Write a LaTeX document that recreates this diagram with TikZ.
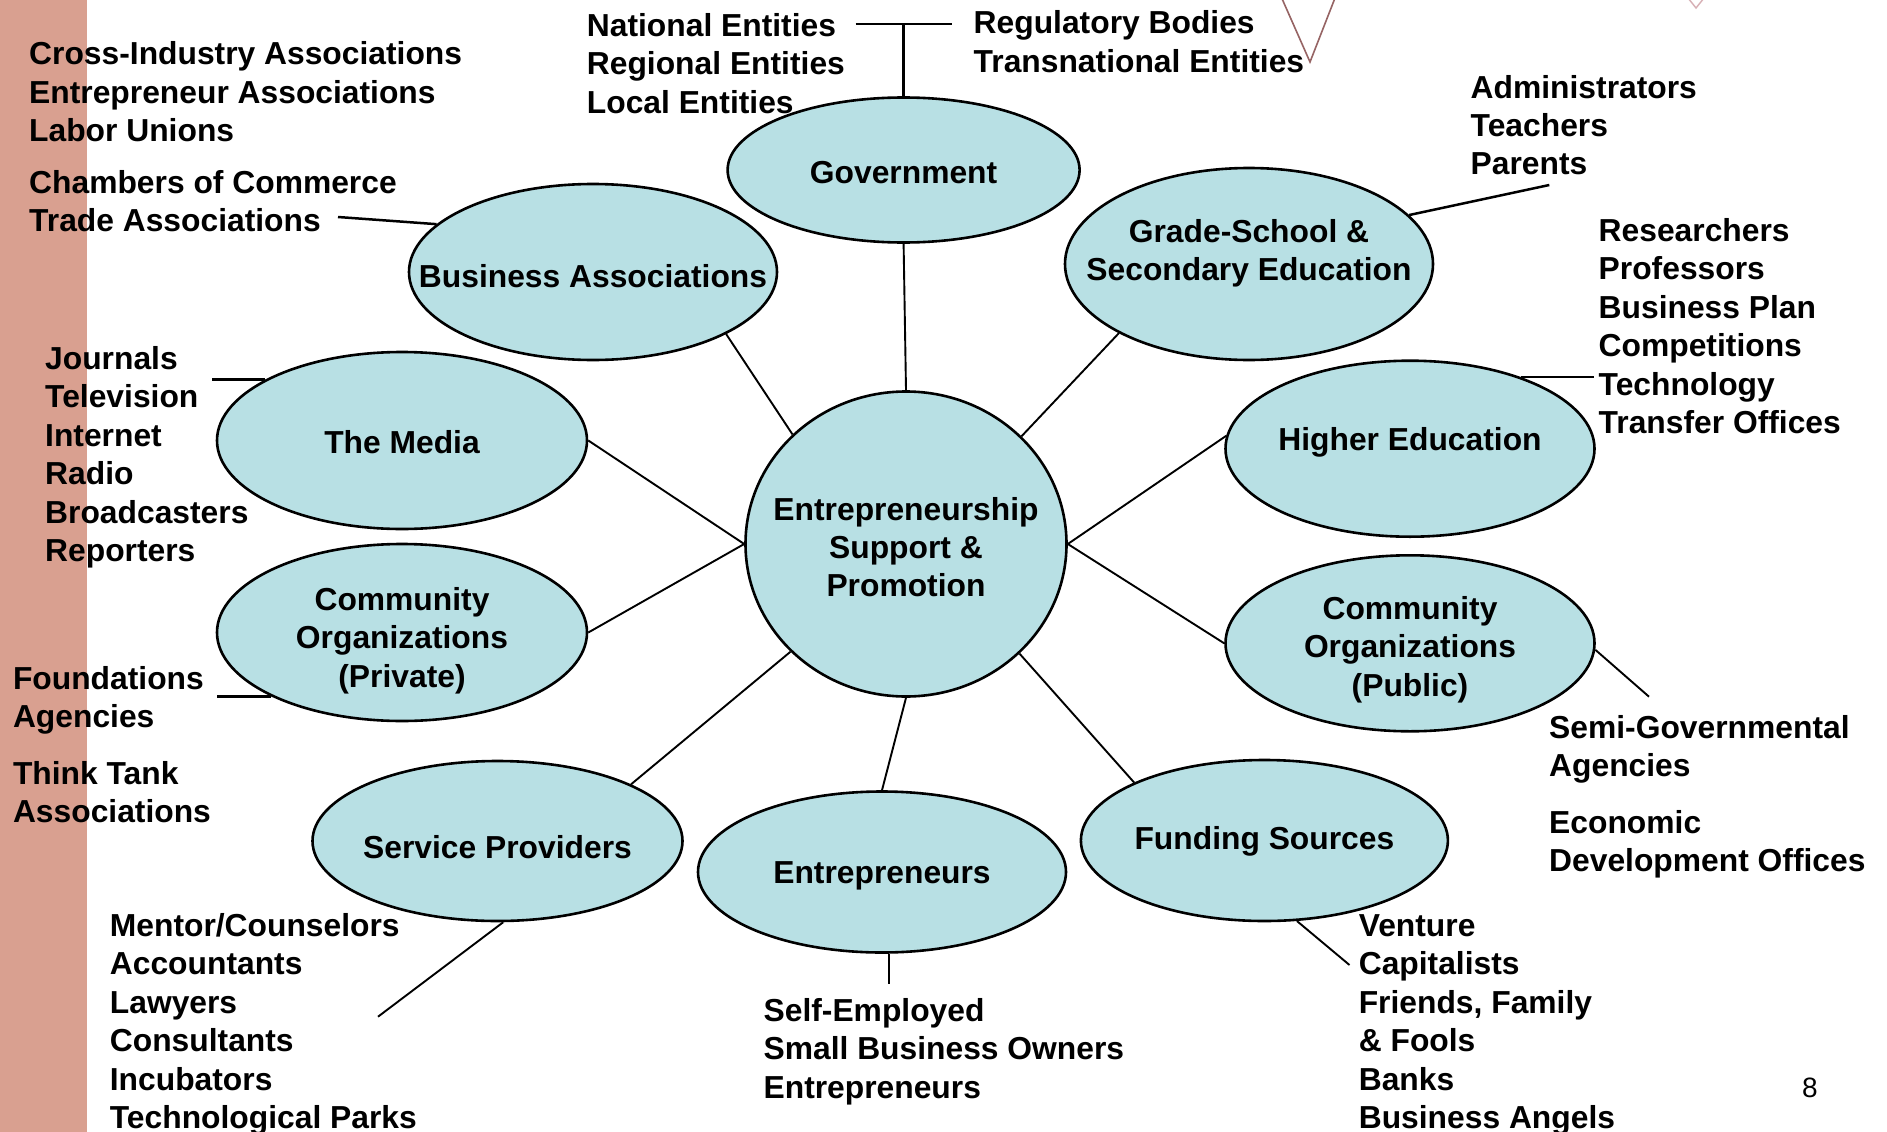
\documentclass[tikz,border=0pt]{standalone}
\usepackage{fontspec}
\setmainfont{Liberation Sans}
\usetikzlibrary{shapes.geometric}
\definecolor{barfill}{RGB}{217,160,144}
\definecolor{bubblefill}{RGB}{184,224,228}
\definecolor{vline}{RGB}{150,100,100}
\definecolor{vfaint}{RGB}{215,175,180}
\newcommand\lblfont{\bfseries\fontsize{31.8}{38.4}\selectfont}
\newcommand\pgnfont{\fontsize{28}{34}\selectfont}
\newcommand\elab[2][-11pt]{\makebox[0pt]{\raisebox{#1}[0pt][0pt]{\begin{tabular}{@{}c@{}}#2\end{tabular}}}}
\newcommand\tlist[1]{\begin{tabular}[t]{@{}l@{}}#1\end{tabular}}
\begin{document}
\begin{tikzpicture}[x=1pt,y=-1pt,
  bubble/.style={ellipse, draw, line width=2.6pt, fill=bubblefill, inner sep=0pt, font=\lblfont},
  listtext/.style={anchor=base west, inner sep=0pt, font=\lblfont},
  spoke/.style={line width=1.9pt},
  twig/.style={line width=2.5pt}]
\useasboundingbox (0,0) rectangle (1887,1132);
\fill[white] (0,0) rectangle (1887,1132);
\fill[barfill] (0,0) rectangle (87,1132);
% decorations at top
\draw[vline, line width=1.6pt] (1281.7,-2) -- (1310,62) -- (1335,-2);
\draw[vfaint, line width=1.4pt] (1688,-2) -- (1696,8) -- (1704,-2);

% ellipses
\node[bubble, minimum width=352pt, minimum height=145pt] (gov) at (903.6,170) {\elab[-12pt]{Government}};
\node[bubble, minimum width=368pt, minimum height=176pt] (ba) at (593,272) {\elab[-14.5pt]{Business Associations}};
\node[bubble, minimum width=368pt, minimum height=192pt] (grade) at (1249,264) {\elab[4pt]{Grade-School \&\\Secondary Education}};
\node[bubble, minimum width=370pt, minimum height=177pt] (media) at (402,440.5) {\elab[-12pt]{The Media}};
\node[bubble, minimum width=369pt, minimum height=176pt] (higher) at (1410,448.7) {\elab[0pt]{Higher Education}};
\node[bubble, minimum width=321pt, minimum height=305pt] (c) at (906,544) {\elab[-13pt]{Entrepreneurship\\Support \&\\Promotion}};
\node[bubble, minimum width=370pt, minimum height=177pt] (cpriv) at (402,632.5) {\elab[-15pt]{Community\\Organizations\\(Private)}};
\node[bubble, minimum width=369pt, minimum height=176pt] (cpub) at (1410,643.3) {\elab[-13pt]{Community\\Organizations\\(Public)}};
\node[bubble, minimum width=370pt, minimum height=160pt] (serv) at (497.5,841) {\elab[-16pt]{Service Providers}};
\node[bubble, minimum width=368pt, minimum height=161pt] (ent) at (882,872) {\elab[-10pt]{Entrepreneurs}};
\node[bubble, minimum width=367pt, minimum height=161pt] (fund) at (1264.4,840.5) {\elab[-8pt]{Funding Sources}};

% spokes
\draw[spoke] (c.north) -- (gov.south);
\draw[spoke] (c.136.5) -- (ba.335);
\draw[spoke] (c.43.7) -- (grade.208);
\draw[spoke] (c.west) -- (media.east);
\draw[spoke] (c.west) -- (cpriv.east);
\draw[spoke] (c.east) -- (higher.176);
\draw[spoke] (c.east) -- (cpub.west);
\draw[spoke] (c.223.5) -- (serv.23.5);
\draw[spoke] (c.south) -- (ent.north);
\draw[spoke] (c.316.3) -- (fund.156.3);

% text lists
\node[listtext] (tcross) at (29,65) {\tlist{Cross-Industry Associations\\Entrepreneur Associations\\Labor Unions}};
\node[listtext] (tcham) at (29,193.5) {\tlist{Chambers of Commerce\\Trade Associations}};
\node[listtext] (tnat) at (586.7,36.5) {\tlist{National Entities\\Regional Entities\\Local Entities}};
\node[listtext] (treg) at (973.5,34) {\tlist{Regulatory Bodies\\Transnational Entities}};
\node[listtext] (tadm) at (1470.5,98) {\tlist{Administrators\\Teachers\\Parents}};
\node[listtext] (tres) at (1598.5,241.5) {\tlist{Researchers\\Professors\\Business Plan\\Competitions\\Technology\\Transfer Offices}};
\node[listtext] (tjour) at (45,369.5) {\tlist{Journals\\Television\\Internet\\Radio\\Broadcasters\\Reporters}};
\node[listtext] (tfound) at (12.8,689.5) {\tlist{Foundations\\Agencies}};
\node[listtext] (tthink) at (12.8,784.5) {\tlist{Think Tank\\Associations}};
\node[listtext] (tsemi) at (1549,738) {\tlist{Semi-Governmental\\Agencies}};
\node[listtext] (tecon) at (1549,833) {\tlist{Economic\\Development Offices}};
\node[listtext] (tment) at (109.7,936.5) {\tlist{Mentor/Counselors\\Accountants\\Lawyers\\Consultants\\Incubators\\Technological Parks}};
\node[listtext] (tself) at (763.4,1021.5) {\tlist{Self-Employed\\Small Business Owners\\Entrepreneurs}};
\node[listtext] (tvent) at (1358.6,936.5) {\tlist{Venture\\Capitalists\\Friends, Family\\\& Fools\\Banks\\Business Angels}};
\node[anchor=base west, inner sep=0pt, font=\pgnfont] (pgnum) at (1802,1097) {8};

% free ends of the outer connectors
\coordinate (govtop) at (903.6,23.9);
\coordinate (govL) at (855.5,23.9);
\coordinate (govR) at (952,23.9);
\coordinate (tradeend) at (338,217);
\coordinate (mediaend) at (211.7,381);
\coordinate (foundend) at (216.8,696);
\coordinate (parentsend) at (1549.3,185);
\coordinate (techend) at (1594,376);
\coordinate (semiend) at (1649,696.7);
\coordinate (mentorend) at (378,1016.7);
\coordinate (selfend) at (890,984);
\coordinate (ventureend) at (1349.5,965);

% outer connectors
\draw[twig] (gov.north) -- (govtop);
\draw[twig] (govL) -- (govR);
\draw[twig] (ba.163.5) -- (tradeend);
\draw[twig] (media.156.7) -- (media.156.7 -| mediaend);
\draw[twig] (cpriv.206.7) -- (cpriv.206.7 -| foundend);
\draw[twig] (grade.17) -- (parentsend);
\draw[twig] (higher.33) -- (higher.33 -| techend);
\draw[spoke] (cpub.358.5) -- (semiend);
\draw[spoke] (serv.274.3) -- (mentorend);
\draw[twig] (ent.275.7) -- (ent.275.7 |- selfend);
\draw[spoke] (fund.292.9) -- (ventureend);
\end{tikzpicture}
\end{document}
